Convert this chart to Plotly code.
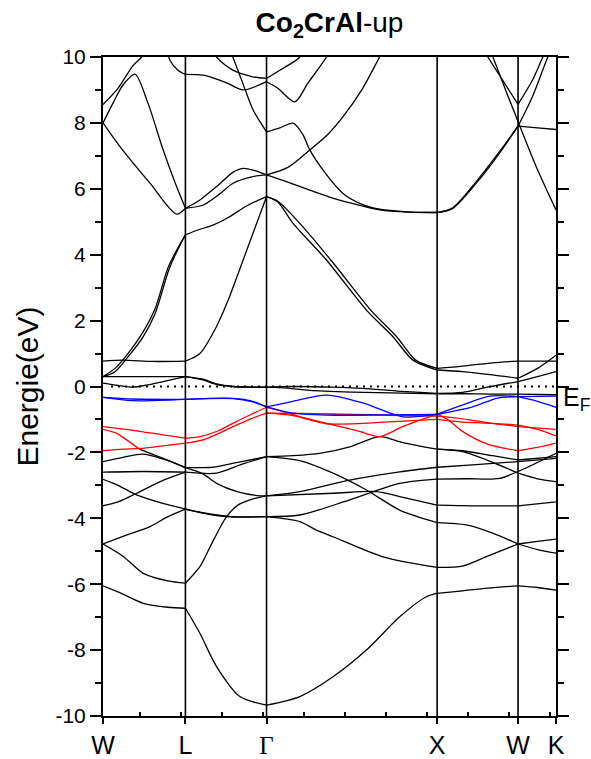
import plotly.graph_objects as go

# High-symmetry points along the path (path-distance units)
HS_K = [0, 82.5, 163.7, 334.5, 415.5, 453.5]
HS_LABELS = ["W", "L", '<span style="font-family:Liberation Serif">Γ</span>', "X", "W", "K"]
Y_TICKS = [-10, -8, -6, -4, -2, 0, 2, 4, 6, 8, 10]
Y_TICKTEXT = ["-10", "-8", "-6", "-4", "-2", "0", "2", "4", "6", "8", "10"]

# ---- black bands: [k, E(eV)] ----
blk_u1 = [[0, 8.56], [15, 9.05], [30, 9.74], [38.7, 10.0], [44, 10.3]]
blk_u2 = [[0, 8.0], [10, 8.6], [20, 9.15], [32, 9.48], [45, 8.6], [60, 7.2], [72, 6.2], [82.5, 5.41],
          [97, 5.66], [115, 6.1], [130, 6.5], [140.3, 6.62], [152, 6.55], [163.7, 6.42],
          [185, 6.65], [207, 7.18], [225, 7.65], [240.3, 8.19], [260, 9.05], [277, 10.0], [283, 10.3]]
blk_u3 = [[0, 8.0], [17, 7.28], [47, 6.17], [73.7, 5.23], [82.5, 5.41], [100, 5.5], [115, 5.8],
          [130.3, 6.17], [150, 6.37], [163.7, 6.42], [185, 6.2], [207, 5.96], [230, 5.72], [257, 5.5],
          [277, 5.36], [305, 5.29], [334.5, 5.28], [350, 5.4], [373.7, 6.17], [395, 7.0], [415.5, 7.9],
          [430, 8.8], [445.3, 10.0], [450, 10.3]]
blk_u4 = [[0, 0.3], [12, 0.55], [25, 1.0], [40, 1.65], [52, 2.35], [65, 3.6], [74, 4.15], [82.5, 4.6],
          [95, 4.75], [110, 4.9], [123.7, 5.1], [145, 5.5], [163.7, 5.76], [175, 5.6], [190.3, 4.95],
          [223.7, 3.84], [263.7, 2.32], [290.3, 1.51], [310.3, 0.8], [334.5, 0.5], [360, 0.45],
          [390, 0.35], [415.5, 0.25], [435, 0.55], [453.5, 0.95]]
blk_s2 = [[0, 0.3], [12, 0.45], [25, 0.9], [40, 1.5], [52, 2.2], [66, 3.55], [74, 4.1], [82.5, 4.6]]
blk_z3 = [[0, 0.77], [20, 0.8], [50, 0.76], [82.5, 0.77], [97, 1.0], [113.7, 1.82], [125, 2.6],
          [140.3, 3.84], [152, 4.8], [163.7, 5.76], [175, 5.62], [197, 4.95], [230.7, 3.74], [268, 2.32],
          [294, 1.51], [313, 0.8], [334.5, 0.55], [360, 0.62], [390, 0.72], [415.5, 0.77], [453.5, 0.77]]
blk_z1 = [[0, 0.1], [15, 0.03], [30, -0.02], [45, 0.05], [60, 0.15], [82.5, 0.3], [100, 0.2],
          [113.7, 0.06], [130, 0.0], [163.7, -0.02], [190, 0.0], [230, -0.02], [270, -0.08],
          [300, -0.15], [334.5, -0.21], [360, -0.18], [385, -0.02], [415.5, 0.15], [435, 0.3], [453.5, 0.45]]
blk_z2 = [[0, 0.3], [30, 0.3], [60, 0.3], [82.5, 0.3], [100, 0.22], [113.7, 0.08], [130, 0.0],
          [163.7, -0.02], [185, -0.05], [207, -0.12], [250, -0.17], [300, -0.2], [334.5, -0.22],
          [360, -0.22], [390, -0.23], [415.5, -0.23], [453.5, -0.25]]
blk_k1 = [[0, -2.28], [20, -2.15], [40, -2.05], [60, -2.2], [82.5, -2.46], [100, -2.65], [113.7, -2.94],
          [135, -3.2], [154, -3.31], [163.7, -3.32], [197, -3.19], [247, -2.84], [297, -2.59],
          [334.5, -2.45], [370, -2.38], [415.5, -2.28], [453.5, -2.18]]
blk_k2 = [[37, -1.91], [55, -2.12], [70, -2.3], [82.5, -2.46], [110, -2.45], [135, -2.3], [163.7, -2.13],
          [197, -2.25], [230.3, -2.63], [263.7, -3.14], [297, -3.75], [334.5, -4.13], [363.7, -4.2],
          [390, -4.45], [415.5, -4.78], [435, -4.95], [453.5, -5.06]]
blk_k3 = [[0, -2.6], [40, -2.58], [82.5, -2.6], [113.7, -2.63], [140, -2.35], [163.7, -2.13], [190, -2.1],
          [217, -2.03], [247, -1.83], [277, -1.52], [300, -1.7], [334.5, -1.9], [360, -1.95],
          [390, -2.1], [415.5, -2.23], [453.5, -2.13]]
blk_k4 = [[0, -2.82], [15, -3.0], [33.7, -3.29], [60, -3.55], [82.5, -3.72], [110, -3.88], [130.3, -3.95],
          [163.7, -3.95], [197, -3.9], [247, -3.44], [297, -2.94], [334.5, -2.81], [365, -2.8],
          [397, -2.79], [425, -2.45], [453.5, -2.03]]
blk_k5 = [[0, -3.62], [15, -3.5], [33.7, -3.24], [60, -2.85], [82.5, -2.6]]
blk_k6 = [[0, -4.78], [20, -4.55], [47, -4.25], [65, -3.95], [82.5, -3.72], [110, -3.9], [130.3, -3.96],
          [163.7, -3.95], [197, -4.1], [213.7, -4.36], [230.3, -4.56], [280.3, -5.17], [334.5, -5.49],
          [360, -5.45], [385, -5.15], [415.5, -4.78], [435, -4.7], [453.5, -4.63]]
blk_k7 = [[0, -4.78], [20, -5.15], [40.3, -5.67], [65, -5.9], [82.5, -5.97], [97, -5.47], [110, -4.7],
          [123.7, -3.95], [135, -3.6], [147, -3.44], [163.7, -3.32], [230.3, -3.24], [273.7, -3.19],
          [297, -3.34], [334.5, -3.6], [370, -3.62], [415.5, -3.62], [453.5, -3.5]]
blk_k8 = [[0, -6.05], [20, -6.3], [40.3, -6.58], [65, -6.7], [82.5, -6.73], [97, -7.49], [113.7, -8.5],
          [137, -9.41], [163.7, -9.67], [197, -9.41], [230.3, -8.81], [263.7, -8.0], [297, -6.99],
          [323.7, -6.38], [334.5, -6.28], [360, -6.2], [385, -6.12], [415.5, -6.05], [435, -6.1], [453.5, -6.18]]
blk_xwh = [[334.5, -1.9], [360, -1.98], [390, -2.3], [415.5, -2.63], [435, -2.8], [453.5, -2.89]]
blk_p3 = [[126, 10.3], [130, 10.0], [140, 9.2], [150.3, 8.39], [163.7, 7.73], [177, 7.85], [190.3, 7.99],
          [200, 7.65], [207, 7.18], [222, 6.5], [240.3, 5.86], [257, 5.56], [277, 5.38], [305, 5.3],
          [334.5, 5.28], [350, 5.42], [373.7, 6.22], [395, 7.05], [415.5, 7.9], [435, 7.85], [453.5, 7.8]]
blk_t1 = [[64, 10.3], [67, 9.9], [75, 9.6], [82.5, 9.47], [100, 9.45], [107, 9.4], [125, 9.2], [140.3, 9.0],
          [163.7, 9.25], [175, 9.05], [192, 8.64], [205, 9.2], [223.7, 10.0], [228, 10.3]]
blk_t2 = [[110, 10.3], [113.7, 10.0], [130, 9.6], [150, 9.4], [163.7, 9.35], [177, 9.6], [197, 10.0], [200, 10.3]]
blk_v1 = [[380, 10.3], [385.3, 10.0], [400, 9.3], [415.5, 8.56], [430, 9.3], [440.3, 10.0], [445, 10.3]]
blk_v2 = [[386, 10.3], [390.3, 10.0], [403, 9.0], [415.5, 8.04], [433.7, 6.67], [453.5, 5.36]]

# ---- red bands ----
red_1 = [[0, -1.22], [30, -1.33], [60, -1.47], [82.5, -1.57], [97, -1.52], [115, -1.35], [130, -1.12],
         [148, -0.85], [163.7, -0.63], [185, -0.8], [205, -1.0], [223.7, -1.13], [260, -1.12],
         [300, -1.05], [334.5, -1.0], [360, -1.08], [390, -1.12], [415.5, -1.17], [435, -1.3], [453.5, -1.5]]
red_2 = [[0, -1.95], [20, -1.9], [37, -1.88], [60, -1.8], [82.5, -1.72], [100, -1.62], [130.3, -1.22],
         [148, -0.98], [163.7, -0.81], [190, -0.88], [223.7, -1.12], [255, -1.35], [277, -1.52],
         [300, -1.22], [334.5, -0.84], [345, -1.0], [360.3, -1.37], [385, -1.75], [415.5, -1.95],
         [435, -1.85], [453.5, -1.72]]
red_3 = [[0, -1.3], [13.7, -1.42], [25, -1.65], [37, -1.91]]
red_4 = [[163.7, -0.81], [200, -0.82], [250, -0.85], [300, -0.88], [334.5, -0.9], [360, -0.98],
         [390, -1.12], [415.5, -1.22], [453.5, -1.3]]

# ---- blue bands ----
blue_1 = [[0, -0.33], [30, -0.43], [82.5, -0.39], [130.3, -0.36], [150, -0.45], [163.7, -0.62],
          [190, -0.45], [223.7, -0.26], [260, -0.5], [300.3, -0.92], [334.5, -0.84], [360.3, -0.56],
          [387, -0.29], [415.5, -0.31], [453.5, -0.29]]
blue_2 = [[0, -0.33], [30, -0.38], [82.5, -0.39], [130.3, -0.37], [150, -0.47], [163.7, -0.62],
          [190.3, -0.81], [223.7, -0.87], [280, -0.86], [334.5, -0.85], [370, -0.62], [395, -0.35],
          [415.5, -0.31], [435, -0.45], [453.5, -0.63]]

BLACK = [blk_u1, blk_u2, blk_u3, blk_u4, blk_s2, blk_z3, blk_z1, blk_z2, blk_k1, blk_k2, blk_k3,
         blk_k4, blk_k5, blk_k6, blk_k7, blk_k8, blk_xwh, blk_p3, blk_t1, blk_t2, blk_v1, blk_v2]
RED = [red_1, red_2, red_3, red_4]
BLUE = [blue_1, blue_2]

INTERIOR = HS_K[1:-1]


def segments(band):
    """split a band at the high-symmetry points so each piece is smoothed on its own"""
    xs, ys = [], []
    cur = [band[0]]
    for p in band[1:]:
        cur.append(p)
        if any(abs(p[0] - h) < 1e-6 for h in INTERIOR):
            xs += [q[0] for q in cur] + [None]
            ys += [q[1] for q in cur] + [None]
            cur = [p]
    if len(cur) > 1:
        xs += [q[0] for q in cur]
        ys += [q[1] for q in cur]
    return xs, ys


fig = go.Figure()
for group, color in ((BLACK, "black"), (RED, "#ff0000"), (BLUE, "#0000ff")):
    for band in group:
        xs, ys = segments(band)
        fig.add_trace(go.Scatter(x=xs, y=ys, mode="lines", connectgaps=False,
                                 line=dict(color=color, width=1.3, shape="spline", smoothing=0.8),
                                 hoverinfo="skip"))

for h in INTERIOR:
    fig.add_shape(type="line", x0=h, x1=h, y0=0, y1=1, xref="x", yref="paper",
                  line=dict(color="black", width=1.6))
fig.add_shape(type="line", x0=HS_K[0] + 8, x1=HS_K[-1], y0=0, y1=0, xref="x", yref="y",
              line=dict(color="black", width=2, dash="2px,5px"))

fig.add_annotation(x=HS_K[-1], y=0, xref="x", yref="y", text="E<sub>F</sub>", showarrow=False,
                   xanchor="left", yanchor="middle", xshift=5, yshift=-12,
                   font=dict(size=25, color="black", family="Liberation Sans"))

fig.update_layout(
    width=591, height=759,
    margin=dict(l=103, r=35, t=57, b=43, autoexpand=False),
    plot_bgcolor="white", paper_bgcolor="white", showlegend=False,
    font=dict(family="Liberation Sans", color="black"),
    title=dict(text="<b>Co<sub>2</sub>CrAl</b>-up", x=329.5 / 591, xanchor="center",
               y=1 - 22 / 759, yanchor="middle", font=dict(size=28, family="Liberation Sans")),
)
fig.update_xaxes(range=[HS_K[0], HS_K[-1]], tickvals=HS_K, ticktext=HS_LABELS,
                 ticks="outside", ticklen=6, tickwidth=1.5, tickcolor="black",
                 minor=dict(tick0=-4, dtick=41, ticks="inside", ticklen=4, tickwidth=1.5, tickcolor="black"),
                 showline=True, linewidth=2, linecolor="black", mirror=True, automargin=False,
                 showgrid=False, zeroline=False, tickfont=dict(size=25))
fig.update_yaxes(range=[-10, 10], tickvals=Y_TICKS, ticktext=Y_TICKTEXT,
                 ticks="outside", ticklen=11, tickwidth=1.5, tickcolor="black",
                 minor=dict(dtick=1, tick0=0, ticks="outside", ticklen=6, tickwidth=1.5, tickcolor="black"),
                 showline=True, linewidth=2, linecolor="black", mirror="ticks", automargin=False,
                 showgrid=False, zeroline=False, tickfont=dict(size=21),
                 title=dict(text="Energie(eV)", font=dict(size=30), standoff=8))

fig.write_html("out.html")
